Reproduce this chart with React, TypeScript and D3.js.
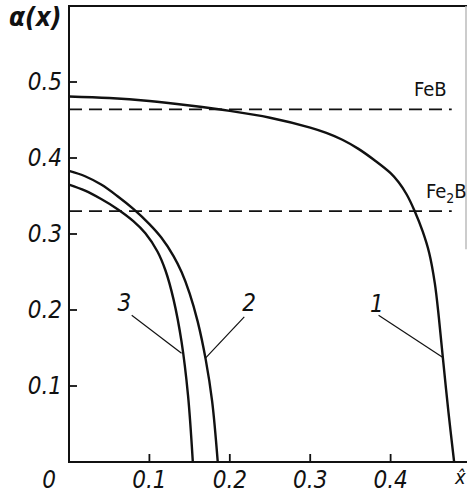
import React, { useEffect, useRef } from 'react';
import * as d3 from 'd3';

// values
const xTicks = [0.1, 0.2, 0.3, 0.4];
const yTicks = [0.1, 0.2, 0.3, 0.4, 0.5];

const curve1X = [0, 0.05, 0.1, 0.15, 0.2, 0.25, 0.3, 0.32, 0.34, 0.36, 0.38, 0.4, 0.41, 0.42, 0.43, 0.44, 0.448, 0.455, 0.46, 0.465, 0.472, 0.479];
const curve1Y = [0.481, 0.479, 0.475, 0.469, 0.462, 0.453, 0.44, 0.433, 0.424, 0.412, 0.397, 0.38, 0.368, 0.352, 0.33, 0.303, 0.275, 0.235, 0.19, 0.137, 0.065, 0];

const curve2X = [0, 0.02, 0.04, 0.06, 0.08, 0.1, 0.115, 0.13, 0.14, 0.15, 0.16, 0.17, 0.178, 0.185];
const curve2Y = [0.383, 0.376, 0.365, 0.35, 0.333, 0.313, 0.295, 0.271, 0.25, 0.222, 0.185, 0.135, 0.08, 0];

const curve3X = [0, 0.02, 0.04, 0.06, 0.08, 0.095, 0.11, 0.12, 0.13, 0.14, 0.148, 0.154];
const curve3Y = [0.365, 0.357, 0.346, 0.333, 0.317, 0.301, 0.277, 0.252, 0.214, 0.158, 0.088, 0];

// horizontal reference levels
const levelNames = ['FeB', 'Fe2B'];
const levelValues = [0.464, 0.33];
const levelEnd = 0.476;

// curve number labels: label position and leader end (data coords)
const labelNames = ['1', '2', '3'];
const labelX = [0.383, 0.224, 0.069];
const labelY = [0.208, 0.21, 0.21];
const leaderFromX = [0.385, 0.218, 0.078];
const leaderFromY = [0.193, 0.191, 0.193];
const leaderToX = [0.466, 0.17, 0.14];
const leaderToY = [0.137, 0.137, 0.143];

const App = () => {
  const svgRef = useRef<SVGSVGElement>(null);

  useEffect(() => {
    const svg = d3.select(svgRef.current);
    svg.selectAll('*').remove();

    const x = d3.scaleLinear().domain([0, 0.495]).range([69, 467]);
    const y = d3.scaleLinear().domain([0, 0.6]).range([462, 6]);

    const font = '"DejaVu Sans Condensed", "Liberation Sans Narrow", "Liberation Sans", sans-serif';
    const ink = '#111';

    // frame
    svg.append('path')
      .attr('d', `M${x(0.495)},${y(0.6)} H${x(0)} V${y(0)} H${x(0.495)}`)
      .attr('fill', 'none')
      .attr('stroke', ink)
      .attr('stroke-width', 2);
    svg.append('line')
      .attr('x1', x(0.495) - 1).attr('x2', x(0.495) - 1)
      .attr('y1', y(0.6)).attr('y2', y(0.28))
      .attr('stroke', '#bbb')
      .attr('stroke-width', 1.5);

    // ticks
    svg.selectAll('.xtick').data(xTicks).enter().append('line')
      .attr('x1', d => x(d)).attr('x2', d => x(d))
      .attr('y1', y(0)).attr('y2', y(0) - 8)
      .attr('stroke', ink).attr('stroke-width', 1.8);
    svg.selectAll('.ytick').data(yTicks).enter().append('line')
      .attr('x1', x(0)).attr('x2', x(0) + 8)
      .attr('y1', d => y(d)).attr('y2', d => y(d))
      .attr('stroke', ink).attr('stroke-width', 1.8);

    // tick labels
    svg.selectAll('.xlab').data([0, ...xTicks]).enter().append('text')
      .attr('x', d => (d === 0 ? x(0) - 20 : x(d)))
      .attr('y', y(0) + 26)
      .attr('text-anchor', 'middle')
      .attr('font-family', font)
      .attr('font-style', 'italic')
      .attr('font-size', 24)
      .attr('fill', ink)
      .text(d => (d === 0 ? '0' : d3.format('.1f')(d)));
    svg.selectAll('.ylab').data(yTicks).enter().append('text')
      .attr('x', x(0) - 7)
      .attr('y', d => y(d))
      .attr('dy', '0.35em')
      .attr('text-anchor', 'end')
      .attr('font-family', font)
      .attr('font-style', 'italic')
      .attr('font-size', 24)
      .attr('fill', ink)
      .text(d => d3.format('.1f')(d));

    // axis titles
    svg.append('text')
      .attr('x', 9).attr('y', 26)
      .attr('font-family', font)
      .attr('font-style', 'italic')
      .attr('font-weight', 'bold')
      .attr('font-size', 26)
      .attr('fill', ink)
      .text('α(x)');
    svg.append('text')
      .attr('x', 455).attr('y', y(0) + 22)
      .attr('font-family', font)
      .attr('font-style', 'italic')
      .attr('font-size', 20)
      .attr('fill', ink)
      .text('x̂');

    // dashed levels
    levelValues.forEach((v, i) => {
      svg.append('line')
        .attr('x1', x(0)).attr('x2', x(levelEnd))
        .attr('y1', y(v)).attr('y2', y(v))
        .attr('stroke', ink)
        .attr('stroke-width', 1.8)
        .attr('stroke-dasharray', '13,7');
      const t = svg.append('text')
        .attr('x', i === 0 ? 414 : 426)
        .attr('y', y(v) - 13)
        .attr('font-family', font)
        .attr('font-size', 20)
        .attr('fill', ink);
      if (levelNames[i] === 'Fe2B') {
        t.append('tspan').text('Fe');
        t.append('tspan').attr('font-size', 14).attr('dy', 5).text('2');
        t.append('tspan').attr('dy', -5).text('B');
      } else {
        t.text(levelNames[i]);
      }
    });

    // curves
    const line = d3.line<[number, number]>()
      .x(d => x(d[0]))
      .y(d => y(d[1]))
      .curve(d3.curveCatmullRom.alpha(0.5));

    [[curve1X, curve1Y], [curve2X, curve2Y], [curve3X, curve3Y]].forEach(([xs, ys]) => {
      svg.append('path')
        .attr('d', line(xs.map((v, i) => [v, ys[i]] as [number, number])))
        .attr('fill', 'none')
        .attr('stroke', ink)
        .attr('stroke-width', 2.4);
    });

    // curve numbers with leader lines
    labelNames.forEach((name, i) => {
      svg.append('line')
        .attr('x1', x(leaderFromX[i])).attr('y1', y(leaderFromY[i]))
        .attr('x2', x(leaderToX[i])).attr('y2', y(leaderToY[i]))
        .attr('stroke', ink)
        .attr('stroke-width', 1.2);
      svg.append('text')
        .attr('x', x(labelX[i])).attr('y', y(labelY[i]))
        .attr('dy', '0.35em')
        .attr('text-anchor', 'middle')
        .attr('font-family', font)
        .attr('font-style', 'italic')
        .attr('font-size', 24)
        .attr('fill', ink)
        .text(name);
    });
  }, []);

  return (
    <svg ref={svgRef} width={468} height={494}
      style={{ position: 'absolute', left: 0, top: 0, background: '#fff' }} />
  );
};

export default App;
